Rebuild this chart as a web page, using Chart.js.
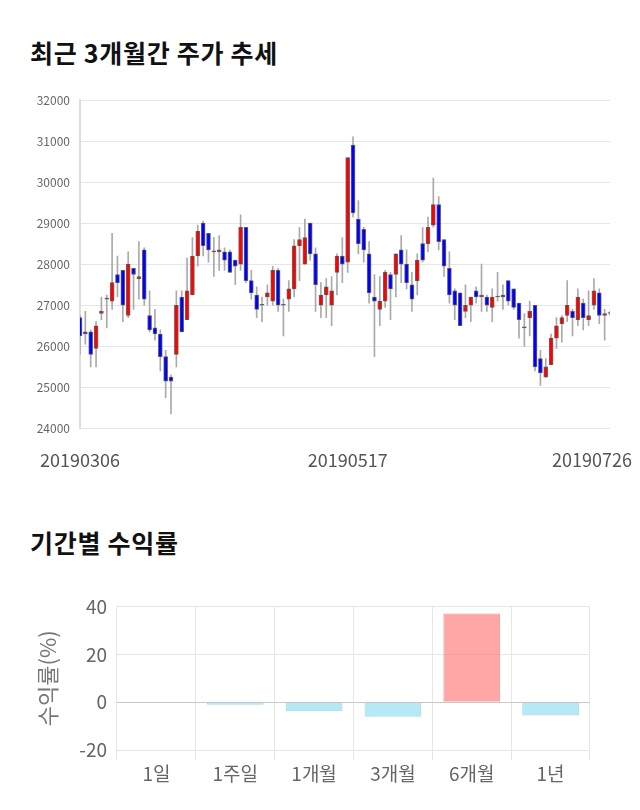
<!DOCTYPE html>
<html>
<head>
<meta charset="utf-8">
<script src="https://cdn.jsdelivr.net/npm/chart.js"></script>
<style>
  body { margin: 0; background: #fff; width: 640px; height: 810px; position: relative; font-family: "Noto Sans CJK KR", sans-serif; }
  h2 { position: absolute; left: 30px; margin: 0; font-size: 25px; letter-spacing: 0.7px; font-weight: bold; color: #111; line-height: 30px; }
  #priceTitle { top: 37px; }
  #returnTitle { top: 527px; }
  .box { position: absolute; left: 0; width: 640px; }
  #priceBox { top: 80px; height: 420px; }
  #returnBox { top: 585px; height: 215px; }
</style>
</head>
<body>
<h2 id="priceTitle">최근 3개월간 주가 추세</h2>
<div class="box" id="priceBox"><canvas id="priceChart" width="640" height="420"></canvas></div>
<h2 id="returnTitle">기간별 수익률</h2>
<div class="box" id="returnBox"><canvas id="returnChart" width="640" height="215"></canvas></div>
<script>
// trading days
const dates = [
    '20190306','20190307','20190308','20190311','20190312','20190313','20190314','20190315','20190318','20190319',
    '20190320','20190321','20190322','20190325','20190326','20190327','20190328','20190329',
    '20190401','20190402','20190403','20190404','20190405','20190408','20190409','20190410','20190411','20190412',
    '20190415','20190416','20190417','20190418','20190419','20190422','20190423','20190424','20190425','20190426',
    '20190429','20190430',
    '20190502','20190503','20190507','20190508','20190509','20190510','20190513','20190514','20190515','20190516',
    '20190517','20190520','20190521','20190522','20190523','20190524','20190527','20190528','20190529','20190530',
    '20190531',
    '20190603','20190604','20190605','20190607','20190610','20190611','20190612','20190613','20190614','20190617',
    '20190618','20190619','20190620','20190621','20190624','20190625','20190626','20190627','20190628',
    '20190701','20190702','20190703','20190704','20190705','20190708','20190709','20190710','20190711','20190712',
    '20190715','20190716','20190717','20190718','20190719','20190722','20190723','20190724','20190725','20190726'
];

const opens = [
    26700,26350,26350,25950,26800,27150,27100,27750,27850,26750,
    27900,27650,28350,26750,26450,26300,25750,25250,25800,27200,
    26650,27250,28200,29000,28750,28300,28300,28300,28300,28100,
    28000,28900,27600,27250,27000,27200,27100,27850,27000,27150,
    27400,28450,28000,29000,28250,27000,27250,27000,27800,28200,
    28050,30900,29100,28850,28250,27200,26900,27100,27750,27750,
    28350,28000,27500,27600,28500,28500,28950,29450,28600,27900,
    27350,27300,26850,27000,27350,27200,27200,26950,27200,27250,
    27600,27400,27050,26450,26700,27000,25700,25250,25550,26200,
    26550,26750,26850,26650,27050,26650,27000,27300,26750,26800
];
const highs = [
    26750,26850,26400,26600,27200,27250,28750,28200,27850,28300,
    27900,28550,28400,27350,26900,26400,25900,25300,27350,27350,
    28150,28650,28950,29050,28750,28650,28700,28400,28350,28100,
    29200,28900,27850,27450,27200,27500,27950,27900,27150,27600,
    28600,28900,29100,29000,28400,27550,27650,27700,28250,28650,
    30600,31100,29550,28900,28550,27750,27700,27850,27800,28250,
    28700,28350,27800,28250,28900,29150,30100,29650,28600,28300,
    27400,27300,27500,27200,27450,28000,27250,27400,27800,27500,
    27600,27400,27050,26800,27100,27000,25900,25700,26300,26700,
    26750,27600,26900,27400,27150,27350,27650,27400,26900,26850
];
const lows = [
    25800,26050,25500,25500,26650,26450,26900,27200,26600,26700,
    26900,27150,27000,26350,26150,25400,24750,24350,25500,26350,
    26650,27250,27950,28200,28050,27700,27850,27850,27800,27500,
    27850,27550,27150,26700,26600,27000,27000,26850,26250,26850,
    27200,27600,28000,28100,26850,26700,26700,26500,27250,27550,
    27800,29150,28250,28050,27050,25750,26500,26950,26650,27200,
    27550,27400,26850,27250,28050,28300,28900,28350,27700,27050,
    26650,26500,26700,26600,27050,26850,26850,26600,27100,26900,
    27000,26900,26200,26000,26250,25400,25050,25250,25550,25950,
    26100,26600,26250,26500,26400,26500,26900,26550,26150,26750
];
const closes = [
    26250,26300,25800,26500,26850,27150,27550,27550,27000,28000,
    27750,27700,27150,26400,26300,25750,25150,25150,27000,26350,
    27350,28200,28800,28450,28350,28300,28350,28100,27800,27950,
    28900,27600,27300,26900,27000,27300,27850,27000,27000,27400,
    28450,28600,28650,28250,27500,27250,27450,27350,28200,28000,
    30600,29250,28500,28350,27300,27100,27100,27800,27400,28250,
    28000,27550,27150,28100,28100,28900,29450,28550,27950,27250,
    27000,26500,27000,27200,27200,27250,27000,27200,27200,27200,
    27100,26950,26650,26450,26850,25500,25350,25500,26200,26500,
    26700,27000,26700,27200,26700,26750,27350,26750,26800,26800
];
const dateTickIdx = [0, 50, 99];

const periods = ['1일', '1주일', '1개월', '3개월', '6개월', '1년'];
const returns = [0, -1.0, -3.8, -6.0, 37.0, -5.5];

Chart.defaults.font.family = '"Noto Sans CJK KR", "Noto Sans", sans-serif';
Chart.defaults.animation = false;

const upColor = '#ff0000';
const downColor = '#0000ff';
const flatColor = '#555555';

const bodyColors = opens.map((o, i) => closes[i] > o ? upColor : (closes[i] < o ? downColor : flatColor));

new Chart(document.getElementById('priceChart'), {
    type: 'bar',
    data: {
        labels: dates,
        datasets: [
            {
                data: opens.map((o, i) => [o, closes[i]]),
                backgroundColor: bodyColors,
                borderColor: 'rgba(40,40,40,0.7)',
                borderWidth: 1,
                borderSkipped: false,
                barThickness: 4,
                minBarLength: 1,
                grouped: false,
                clip: 0
            },
            {
                data: lows.map((l, i) => [l, highs[i]]),
                backgroundColor: '#aaaaaa',
                borderWidth: 0,
                barThickness: 1,
                grouped: false,
                clip: 0
            }
        ]
    },
    options: {
        responsive: false,
        layout: { padding: { left: 0, right: 30, top: 20, bottom: 16 } },
        plugins: {
            legend: { display: false },
            tooltip: { enabled: false }
        },
        scales: {
            x: {
                offset: false,
                grid: { display: false },
                border: { display: false },
                ticks: {
                    autoSkip: false,
                    maxRotation: 0,
                    padding: 13,
                    color: '#555',
                    font: { size: 18 },
                    callback: function (v, i) {
                        if (!dateTickIdx.includes(i)) return null;
                        const label = dates[i];
                        return i === dates.length - 1 ? label + '\u2003\u2003' : label;
                    }
                },
                afterFit: s => { s.paddingLeft = 0; s.paddingRight = 0; }
            },
            y: {
                min: 24000,
                max: 32000,
                ticks: {
                    stepSize: 1000,
                    padding: 10,
                    color: '#666',
                    font: { size: 12 },
                    callback: v => String(v)
                },
                grid: { color: '#e6e6e6', drawTicks: false },
                border: { color: '#dddddd', width: 2 },
                afterFit: s => { s.width = 80; }
            }
        }
    }
});

new Chart(document.getElementById('returnChart'), {
    type: 'bar',
    data: {
        labels: periods,
        datasets: [
            {
                data: returns,
                backgroundColor: returns.map(v => v >= 0 ? 'rgba(255,120,120,0.65)' : 'rgba(120,215,235,0.55)'),
                borderColor: returns.map(v => v >= 0 ? 'rgba(235,130,130,0.8)' : 'rgba(130,205,222,0.7)'),
                borderWidth: 1
            }
        ]
    },
    options: {
        responsive: false,
        layout: { padding: { left: 30, right: 50, top: 20, bottom: 13 } },
        plugins: {
            legend: { display: false },
            tooltip: { enabled: false }
        },
        scales: {
            x: {
                grid: { color: '#e6e6e6', tickLength: 10 },
                border: { display: false },
                ticks: {
                    padding: 2,
                    color: '#666',
                    font: { size: 19 }
                }
            },
            y: {
                min: -20,
                max: 40,
                ticks: {
                    stepSize: 20,
                    padding: 10,
                    color: '#666',
                    font: { size: 19 }
                },
                grid: {
                    drawTicks: false,
                    color: ctx => ctx.tick && ctx.tick.value === 0 ? '#c8c8c8' : '#e6e6e6'
                },
                border: { display: false },
                title: {
                    display: true,
                    text: '수익률(%)',
                    color: '#777',
                    font: { size: 22 }
                },
                afterFit: s => { s.width = 87; }
            }
        }
    }
});
</script>
</body>
</html>
